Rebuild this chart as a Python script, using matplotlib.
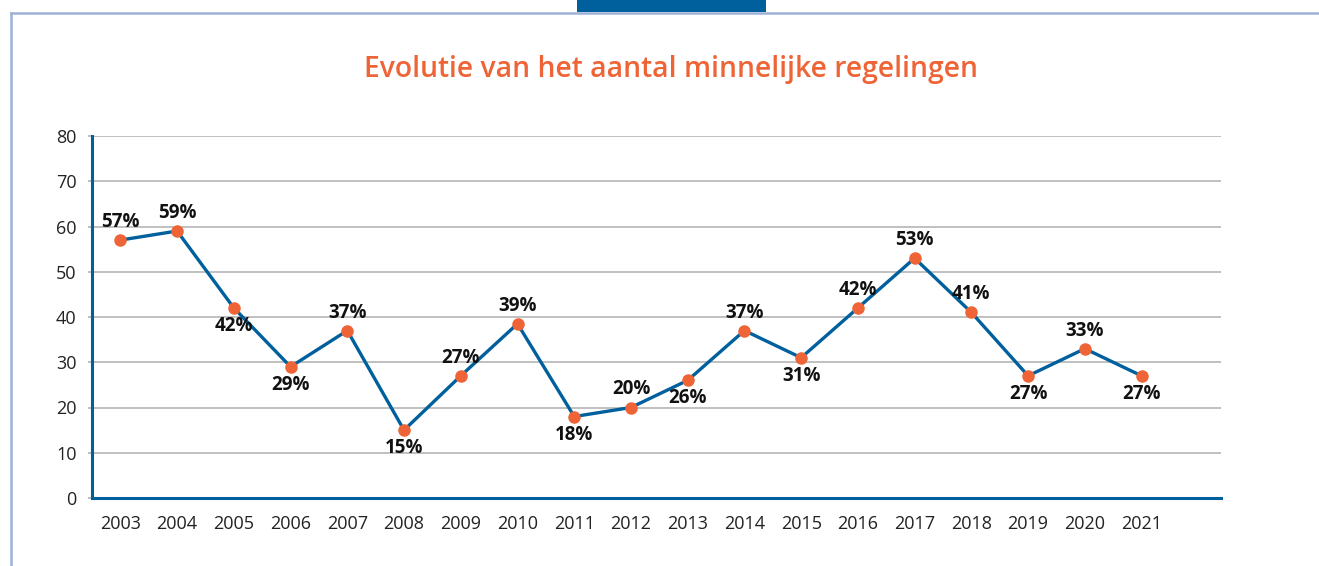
import matplotlib
matplotlib.use("Agg")
import matplotlib.pyplot as plt
from matplotlib.lines import Line2D
from matplotlib.patches import Rectangle

# data
years = [2003, 2004, 2005, 2006, 2007, 2008, 2009, 2010, 2011, 2012,
         2013, 2014, 2015, 2016, 2017, 2018, 2019, 2020, 2021]
values = [57, 59, 42, 29, 37, 15, 27, 38.5, 18, 20,
          26, 37, 31, 42, 53, 41, 27, 33, 27]
labels = ["57%", "59%", "42%", "29%", "37%", "15%", "27%", "39%", "18%", "20%",
          "26%", "37%", "31%", "42%", "53%", "41%", "27%", "33%", "27%"]
# +1 = label above the point, -1 = below
label_side = [1, 1, -1, -1, 1, -1, 1, 1, -1, 1,
              -1, 1, -1, 1, 1, 1, -1, 1, -1]
yticks = [0, 10, 20, 30, 40, 50, 60, 70, 80]

blue = "#00609E"
orange = "#EE6436"
frame_col = "#9DB2D6"

plt.rcParams['font.family'] = ['Open Sans', 'DejaVu Sans']

W, H = 1319, 566
fig = plt.figure(figsize=(W / 100, H / 100), dpi=100)

# page frame and tab
fig.add_artist(Line2D([10.5 / W, 1], [1 - 12.5 / H, 1 - 12.5 / H],
                      transform=fig.transFigure, color=frame_col, lw=1.8))
fig.add_artist(Line2D([10.5 / W, 10.5 / W], [0, 1 - 12.5 / H],
                      transform=fig.transFigure, color=frame_col, lw=1.8))
fig.add_artist(Rectangle((577 / W, 1 - 12 / H), 189 / W, 12 / H,
                         transform=fig.transFigure, color=blue, lw=0))

ax = fig.add_axes([92 / W, (H - 498) / H, (1221 - 92) / W, (498 - 136) / H])
x = list(range(len(years)))
ax.plot(x, values, color=blue, lw=2.4, zorder=3)
ax.plot(x, values, 'o', color=orange, ms=8, zorder=4)

for xi, v, lab, s in zip(x, values, labels, label_side):
    ax.annotate(lab, (xi, v), xytext=(0, 13 * s), textcoords='offset points',
                ha='center', va='center', fontsize=13.5, fontweight='bold',
                color='#111111')

ax.set_xlim(-0.5, 19.4)
ax.set_ylim(0, 80)
ax.set_yticks(yticks)
ax.set_xticks(x)
ax.set_xticklabels([str(y) for y in years])
ax.grid(axis='y', color='#B5B5B5', lw=1.2)
ax.set_axisbelow(True)
for side in ['top', 'right']:
    ax.spines[side].set_visible(False)
for side in ['left', 'bottom']:
    ax.spines[side].set_color(blue)
    ax.spines[side].set_linewidth(2.2)
ax.tick_params(axis='y', length=3, color='#B5B5B5', width=1.2, pad=8,
               labelsize=13, labelcolor='#222222')
ax.tick_params(axis='x', length=0, pad=12.5, labelsize=13, labelcolor='#222222')

fig.text(671 / W, 1 - 69 / H, "Evolutie van het aantal minnelijke regelingen",
         ha='center', va='center', fontsize=20.3, fontweight='semibold',
         color=orange)

fig.savefig("out.png", dpi=100)
